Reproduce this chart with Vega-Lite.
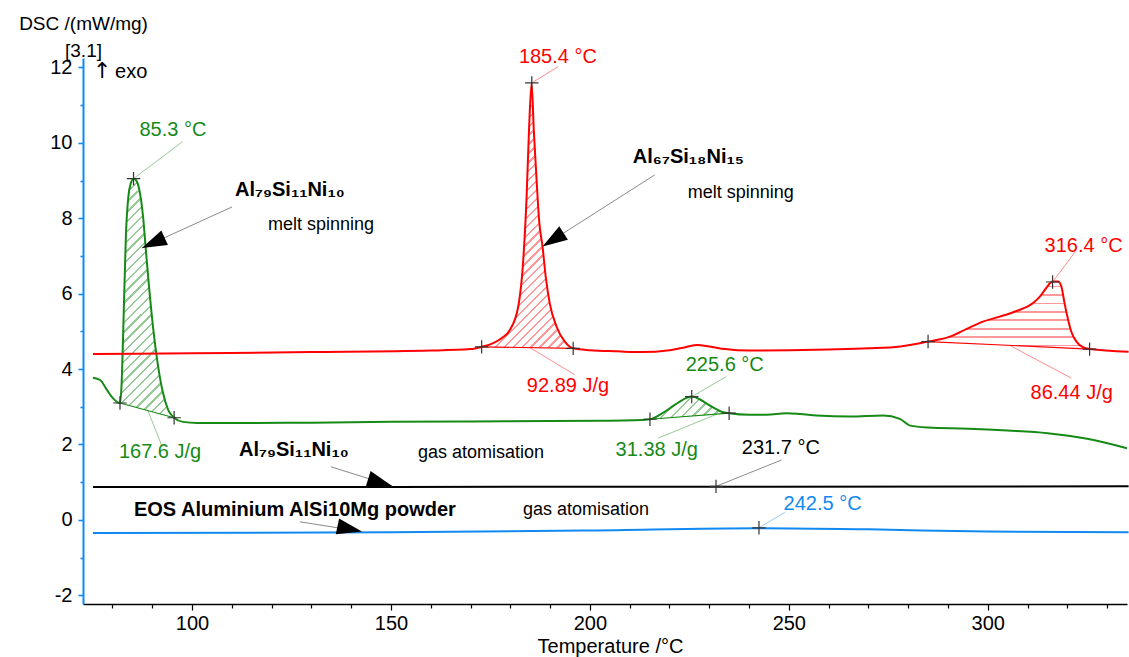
{
  "$schema": "https://vega.github.io/schema/vega-lite/v6.json",
  "width": 1044,
  "height": 546,
  "autosize": {"type": "none"},
  "padding": {"left": 83, "top": 58, "right": 2, "bottom": 53},
  "background": "white",
  "config": {"view": {"stroke": null}, "font": "Liberation Sans"},
  "datasets": {
    "curves": [
      {"s": "G", "T": 75.1, "v": 3.77}, {"s": "G", "T": 76.9, "v": 3.71}, {"s": "G", "T": 78.6, "v": 3.45}, {"s": "G", "T": 80.1, "v": 3.23},
      {"s": "G", "T": 81.9, "v": 3.10}, {"s": "G", "T": 82.3, "v": 3.6}, {"s": "G", "T": 82.7, "v": 4.96}, {"s": "G", "T": 83.4, "v": 7.6},
      {"s": "G", "T": 84.0, "v": 8.57}, {"s": "G", "T": 84.6, "v": 8.92}, {"s": "G", "T": 85.3, "v": 9.05}, {"s": "G", "T": 86.0, "v": 9.0},
      {"s": "G", "T": 86.6, "v": 8.83}, {"s": "G", "T": 87.7, "v": 8.04}, {"s": "G", "T": 88.4, "v": 7.16}, {"s": "G", "T": 89.2, "v": 6.18},
      {"s": "G", "T": 90.2, "v": 5.12}, {"s": "G", "T": 91.5, "v": 4.06}, {"s": "G", "T": 92.7, "v": 3.37}, {"s": "G", "T": 94.0, "v": 2.92},
      {"s": "G", "T": 95.5, "v": 2.71}, {"s": "G", "T": 97.7, "v": 2.60}, {"s": "G", "T": 101.3, "v": 2.57}, {"s": "G", "T": 110, "v": 2.57},
      {"s": "G", "T": 130, "v": 2.58}, {"s": "G", "T": 150, "v": 2.60}, {"s": "G", "T": 170, "v": 2.61}, {"s": "G", "T": 190, "v": 2.62},
      {"s": "G", "T": 202.5, "v": 2.63}, {"s": "G", "T": 210.9, "v": 2.64}, {"s": "G", "T": 215.1, "v": 2.67}, {"s": "G", "T": 217.6, "v": 2.79},
      {"s": "G", "T": 220.1, "v": 2.96}, {"s": "G", "T": 222.6, "v": 3.14}, {"s": "G", "T": 225.6, "v": 3.27}, {"s": "G", "T": 227.6, "v": 3.20},
      {"s": "G", "T": 229.3, "v": 3.09}, {"s": "G", "T": 231.4, "v": 2.96}, {"s": "G", "T": 233.1, "v": 2.87}, {"s": "G", "T": 235.0, "v": 2.83},
      {"s": "G", "T": 240.2, "v": 2.79}, {"s": "G", "T": 244.4, "v": 2.79}, {"s": "G", "T": 249.4, "v": 2.83}, {"s": "G", "T": 252.8, "v": 2.81},
      {"s": "G", "T": 257.0, "v": 2.77}, {"s": "G", "T": 265.3, "v": 2.74}, {"s": "G", "T": 273.7, "v": 2.77}, {"s": "G", "T": 277.9, "v": 2.68},
      {"s": "G", "T": 280.5, "v": 2.50}, {"s": "G", "T": 285, "v": 2.45}, {"s": "G", "T": 295, "v": 2.42}, {"s": "G", "T": 305, "v": 2.37},
      {"s": "G", "T": 315, "v": 2.30}, {"s": "G", "T": 325, "v": 2.15}, {"s": "G", "T": 335, "v": 1.90},

      {"s": "R", "T": 75.1, "v": 4.40}, {"s": "R", "T": 100, "v": 4.42}, {"s": "R", "T": 130, "v": 4.45}, {"s": "R", "T": 160, "v": 4.49},
      {"s": "R", "T": 170, "v": 4.53}, {"s": "R", "T": 172.8, "v": 4.59}, {"s": "R", "T": 175.7, "v": 4.69}, {"s": "R", "T": 177.8, "v": 4.82},
      {"s": "R", "T": 179.9, "v": 5.04}, {"s": "R", "T": 182.0, "v": 5.66}, {"s": "R", "T": 183.2, "v": 6.81}, {"s": "R", "T": 184.1, "v": 8.58},
      {"s": "R", "T": 184.7, "v": 10.34}, {"s": "R", "T": 185.35, "v": 11.58}, {"s": "R", "T": 185.9, "v": 10.34}, {"s": "R", "T": 186.6, "v": 9.02},
      {"s": "R", "T": 187.3, "v": 7.87}, {"s": "R", "T": 188.1, "v": 7.25}, {"s": "R", "T": 188.9, "v": 6.45}, {"s": "R", "T": 189.9, "v": 5.75},
      {"s": "R", "T": 191.6, "v": 5.13}, {"s": "R", "T": 193.7, "v": 4.73}, {"s": "R", "T": 195.8, "v": 4.55}, {"s": "R", "T": 200, "v": 4.50},
      {"s": "R", "T": 207, "v": 4.47}, {"s": "R", "T": 213, "v": 4.45}, {"s": "R", "T": 220, "v": 4.50}, {"s": "R", "T": 224, "v": 4.58},
      {"s": "R", "T": 227, "v": 4.64}, {"s": "R", "T": 230, "v": 4.60}, {"s": "R", "T": 234, "v": 4.53}, {"s": "R", "T": 240, "v": 4.49},
      {"s": "R", "T": 250, "v": 4.50}, {"s": "R", "T": 260, "v": 4.52}, {"s": "R", "T": 270, "v": 4.55}, {"s": "R", "T": 278, "v": 4.60},
      {"s": "R", "T": 285.0, "v": 4.73}, {"s": "R", "T": 290.5, "v": 4.86}, {"s": "R", "T": 294.6, "v": 5.06}, {"s": "R", "T": 298.8, "v": 5.26},
      {"s": "R", "T": 303.0, "v": 5.39}, {"s": "R", "T": 307.2, "v": 5.54}, {"s": "R", "T": 311.4, "v": 5.75}, {"s": "R", "T": 313.1, "v": 5.92},
      {"s": "R", "T": 314.7, "v": 6.15}, {"s": "R", "T": 316.3, "v": 6.32}, {"s": "R", "T": 317.7, "v": 6.32}, {"s": "R", "T": 318.5, "v": 6.19},
      {"s": "R", "T": 319.3, "v": 5.75}, {"s": "R", "T": 320.2, "v": 5.31}, {"s": "R", "T": 321.0, "v": 4.99}, {"s": "R", "T": 322.3, "v": 4.73},
      {"s": "R", "T": 323.9, "v": 4.58}, {"s": "R", "T": 325.6, "v": 4.53}, {"s": "R", "T": 335.4, "v": 4.46},

      {"s": "K", "T": 75.1, "v": 0.87}, {"s": "K", "T": 150, "v": 0.875}, {"s": "K", "T": 231.7, "v": 0.88}, {"s": "K", "T": 335.4, "v": 0.89},

      {"s": "B", "T": 75.1, "v": -0.35}, {"s": "B", "T": 150, "v": -0.33}, {"s": "B", "T": 200, "v": -0.28}, {"s": "B", "T": 242.5, "v": -0.22},
      {"s": "B", "T": 270, "v": -0.25}, {"s": "B", "T": 300, "v": -0.31}, {"s": "B", "T": 335.4, "v": -0.33}
    ],
    "areas": [
      {"p": "g1", "s": "G", "T": 81.9, "v": 3.10, "base": 3.10}, {"p": "g1", "s": "G", "T": 82.3, "v": 3.6, "base": 3.089},
      {"p": "g1", "s": "G", "T": 82.7, "v": 4.96, "base": 3.077}, {"p": "g1", "s": "G", "T": 83.4, "v": 7.6, "base": 3.057},
      {"p": "g1", "s": "G", "T": 84.0, "v": 8.57, "base": 3.04}, {"p": "g1", "s": "G", "T": 84.6, "v": 8.92, "base": 3.023},
      {"p": "g1", "s": "G", "T": 85.3, "v": 9.05, "base": 3.002}, {"p": "g1", "s": "G", "T": 86.0, "v": 9.0, "base": 2.982},
      {"p": "g1", "s": "G", "T": 86.6, "v": 8.83, "base": 2.965}, {"p": "g1", "s": "G", "T": 87.7, "v": 8.04, "base": 2.934},
      {"p": "g1", "s": "G", "T": 88.4, "v": 7.16, "base": 2.914}, {"p": "g1", "s": "G", "T": 89.2, "v": 6.18, "base": 2.891},
      {"p": "g1", "s": "G", "T": 90.2, "v": 5.12, "base": 2.862}, {"p": "g1", "s": "G", "T": 91.5, "v": 4.06, "base": 2.825},
      {"p": "g1", "s": "G", "T": 92.7, "v": 3.37, "base": 2.79}, {"p": "g1", "s": "G", "T": 94.0, "v": 2.92, "base": 2.753},
      {"p": "g1", "s": "G", "T": 95.5, "v": 2.71, "base": 2.71},

      {"p": "g2", "s": "G", "T": 215.1, "v": 2.67, "base": 2.67}, {"p": "g2", "s": "G", "T": 217.6, "v": 2.79, "base": 2.69},
      {"p": "g2", "s": "G", "T": 220.1, "v": 2.96, "base": 2.71}, {"p": "g2", "s": "G", "T": 222.6, "v": 3.14, "base": 2.73},
      {"p": "g2", "s": "G", "T": 225.6, "v": 3.27, "base": 2.754}, {"p": "g2", "s": "G", "T": 227.6, "v": 3.20, "base": 2.77},
      {"p": "g2", "s": "G", "T": 229.3, "v": 3.09, "base": 2.784}, {"p": "g2", "s": "G", "T": 231.4, "v": 2.96, "base": 2.801},
      {"p": "g2", "s": "G", "T": 233.1, "v": 2.87, "base": 2.815}, {"p": "g2", "s": "G", "T": 235.0, "v": 2.83, "base": 2.83},

      {"p": "r1", "s": "R", "T": 172.8, "v": 4.59, "base": 4.59}, {"p": "r1", "s": "R", "T": 175.7, "v": 4.69, "base": 4.586},
      {"p": "r1", "s": "R", "T": 177.8, "v": 4.82, "base": 4.583}, {"p": "r1", "s": "R", "T": 179.9, "v": 5.04, "base": 4.581},
      {"p": "r1", "s": "R", "T": 182.0, "v": 5.66, "base": 4.578}, {"p": "r1", "s": "R", "T": 183.2, "v": 6.81, "base": 4.576},
      {"p": "r1", "s": "R", "T": 184.1, "v": 8.58, "base": 4.575}, {"p": "r1", "s": "R", "T": 184.7, "v": 10.34, "base": 4.574},
      {"p": "r1", "s": "R", "T": 185.35, "v": 11.58, "base": 4.574}, {"p": "r1", "s": "R", "T": 185.9, "v": 10.34, "base": 4.573},
      {"p": "r1", "s": "R", "T": 186.6, "v": 9.02, "base": 4.572}, {"p": "r1", "s": "R", "T": 187.3, "v": 7.87, "base": 4.571},
      {"p": "r1", "s": "R", "T": 188.1, "v": 7.25, "base": 4.57}, {"p": "r1", "s": "R", "T": 188.9, "v": 6.45, "base": 4.569},
      {"p": "r1", "s": "R", "T": 189.9, "v": 5.75, "base": 4.568}, {"p": "r1", "s": "R", "T": 191.6, "v": 5.13, "base": 4.566},
      {"p": "r1", "s": "R", "T": 193.7, "v": 4.73, "base": 4.56}, {"p": "r1", "s": "R", "T": 195.8, "v": 4.55, "base": 4.55},

      {"p": "r2", "s": "R", "T": 285.0, "v": 4.73, "base": 4.73}, {"p": "r2", "s": "R", "T": 290.5, "v": 4.86, "base": 4.703},
      {"p": "r2", "s": "R", "T": 294.6, "v": 5.06, "base": 4.683}, {"p": "r2", "s": "R", "T": 298.8, "v": 5.26, "base": 4.662},
      {"p": "r2", "s": "R", "T": 303.0, "v": 5.39, "base": 4.641}, {"p": "r2", "s": "R", "T": 307.2, "v": 5.54, "base": 4.621},
      {"p": "r2", "s": "R", "T": 311.4, "v": 5.75, "base": 4.6}, {"p": "r2", "s": "R", "T": 313.1, "v": 5.92, "base": 4.592},
      {"p": "r2", "s": "R", "T": 314.7, "v": 6.15, "base": 4.584}, {"p": "r2", "s": "R", "T": 316.3, "v": 6.32, "base": 4.576},
      {"p": "r2", "s": "R", "T": 317.7, "v": 6.32, "base": 4.569}, {"p": "r2", "s": "R", "T": 318.5, "v": 6.19, "base": 4.565},
      {"p": "r2", "s": "R", "T": 319.3, "v": 5.75, "base": 4.561}, {"p": "r2", "s": "R", "T": 320.2, "v": 5.31, "base": 4.557},
      {"p": "r2", "s": "R", "T": 321.0, "v": 4.99, "base": 4.553}, {"p": "r2", "s": "R", "T": 322.3, "v": 4.73, "base": 4.547},
      {"p": "r2", "s": "R", "T": 323.9, "v": 4.58, "base": 4.539}, {"p": "r2", "s": "R", "T": 325.6, "v": 4.53, "base": 4.53}
    ],
    "baselines": [
      {"s": "G", "T": 81.9, "v": 3.10, "T2": 95.5, "v2": 2.71},
      {"s": "G", "T": 215.1, "v": 2.67, "T2": 235.0, "v2": 2.83},
      {"s": "R", "T": 172.8, "v": 4.59, "T2": 195.8, "v2": 4.55},
      {"s": "R", "T": 285.0, "v": 4.73, "T2": 325.6, "v2": 4.53}
    ],
    "crosses": [
      {"T": 81.9, "v": 3.10}, {"T": 85.3, "v": 9.05}, {"T": 95.5, "v": 2.71},
      {"T": 215.1, "v": 2.67}, {"T": 225.6, "v": 3.27}, {"T": 235.0, "v": 2.83},
      {"T": 172.8, "v": 4.59}, {"T": 185.4, "v": 11.59}, {"T": 195.8, "v": 4.55},
      {"T": 285.0, "v": 4.73}, {"T": 316.3, "v": 6.31}, {"T": 325.6, "v": 4.53},
      {"T": 231.7, "v": 0.89}, {"T": 242.5, "v": -0.21}
    ],
    "leaders": [
      {"s": "G", "T": 85.3, "v": 9.05, "T2": 97.6, "v2": 10.03},
      {"s": "G", "T": 88.9, "v": 2.9, "T2": 92.5, "v2": 1.94},
      {"s": "R", "T": 185.4, "v": 11.59, "T2": 192.0, "v2": 12.02},
      {"s": "R", "T": 184.9, "v": 4.57, "T2": 196.2, "v2": 3.85},
      {"s": "R", "T": 316.3, "v": 6.31, "T2": 321.9, "v2": 7.1},
      {"s": "R", "T": 305.5, "v": 4.63, "T2": 321.0, "v2": 3.76},
      {"s": "G", "T": 225.6, "v": 3.27, "T2": 234.3, "v2": 3.8},
      {"s": "G", "T": 231.8, "v": 2.80, "T2": 217.2, "v2": 2.17},
      {"s": "K", "T": 231.7, "v": 0.89, "T2": 248.2, "v2": 1.59},
      {"s": "B", "T": 242.5, "v": -0.21, "T2": 249.0, "v2": 0.2}
    ],
    "arrows": [
      {"id": "a1", "T": 110.05, "v": 8.30, "T2": 87.4, "v2": 7.21},
      {"id": "a2", "T": 216.3, "v": 9.15, "T2": 188.1, "v2": 7.25},
      {"id": "a3", "T": 134.9, "v": 1.41, "T2": 150.3, "v2": 0.9},
      {"id": "a4", "T": 127.1, "v": -0.05, "T2": 142.7, "v2": -0.31}
    ],
    "values": [
      {"s": "G", "T": 95.2, "v": 10.34, "text": "85.3 °C"},
      {"s": "G", "T": 91.96, "v": 1.80, "text": "167.6 J/g"},
      {"s": "R", "T": 191.96, "v": 12.28, "text": "185.4 °C"},
      {"s": "R", "T": 194.5, "v": 3.55, "text": "92.89 J/g"},
      {"s": "R", "T": 324.1, "v": 7.27, "text": "316.4 °C"},
      {"s": "R", "T": 321.1, "v": 3.37, "text": "86.44 J/g"},
      {"s": "G", "T": 233.9, "v": 4.11, "text": "225.6 °C"},
      {"s": "G", "T": 216.8, "v": 1.86, "text": "31.38 J/g"},
      {"s": "K", "T": 248.0, "v": 1.91, "text": "231.7 °C"},
      {"s": "B", "T": 258.5, "v": 0.43, "text": "242.5 °C"}
    ],
    "names": [
      {"T": 110.8, "v": 8.75, "text": "Al₇₉Si₁₁Ni₁₀"},
      {"T": 210.8, "v": 9.63, "text": "Al₆₇Si₁₈Ni₁₅"},
      {"T": 111.8, "v": 1.86, "text": "Al₇₉Si₁₁Ni₁₀"},
      {"T": 85.4, "v": 0.27, "text": "EOS Aluminium AlSi10Mg powder"}
    ],
    "notes": [
      {"T": 119.1, "v": 7.82, "text": "melt spinning"},
      {"T": 224.6, "v": 8.67, "text": "melt spinning"},
      {"T": 156.8, "v": 1.78, "text": "gas atomisation"},
      {"T": 183.2, "v": 0.27, "text": "gas atomisation"}
    ],
    "exo": [{"T": 80.65, "v": 11.88, "text": "exo"}],
    "exoArrow": [{"T": 77.4, "v": 11.9, "text": "↑"}]
  },
  "encoding": {
    "x": {
      "field": "T", "type": "quantitative",
      "scale": {"domain": [72.6, 335], "nice": false, "zero": false},
      "axis": {
        "values": [80, 90, 100, 110, 120, 130, 140, 150, 160, 170, 180, 190, 200, 210, 220, 230, 240, 250, 260, 270, 280, 290, 300, 310, 320, 330],
        "labelExpr": "datum.value % 50 === 0 ? '' + datum.value : ''",
        "grid": false, "domainColor": "#000000", "domainWidth": 1.5,
        "tickColor": "#000000", "tickWidth": 1.2,
        "tickSize": {"condition": {"test": "datum.value % 50 === 0", "value": 6}, "value": 4},
        "labelFontSize": 20, "labelColor": "#000000", "labelPadding": 3, "labelOverlap": false, "labelFlush": false,
        "title": "Temperature /°C", "titleFontSize": 20, "titleFontWeight": "normal", "titleColor": "#000000",
        "titleX": 527, "titleY": 48, "titleBaseline": "alphabetic"
      }
    },
    "y": {
      "field": "v", "type": "quantitative",
      "scale": {"domain": [-2.23, 12.25], "nice": false, "zero": false},
      "axis": {
        "values": [-2, -1, 0, 1, 2, 3, 4, 5, 6, 7, 8, 9, 10, 11, 12],
        "labelExpr": "datum.value % 2 === 0 ? '' + datum.value : ''",
        "grid": false, "domainColor": "#1189f0", "domainWidth": 2,
        "tickColor": "#1189f0", "tickWidth": 1.6,
        "tickSize": {"condition": {"test": "datum.value % 2 === 0", "value": 5}, "value": 3},
        "labelFontSize": 20, "labelColor": "#000000", "labelPadding": 6, "labelOverlap": false, "labelFlush": false,
        "title": ["DSC /(mW/mg)", "[3.1]"], "titleAngle": 0, "titleX": 0, "titleY": -29,
        "titleAlign": "center", "titleBaseline": "alphabetic", "titleFontSize": 19, "titleFontWeight": "normal",
        "titleColor": "#000000", "titleLineHeight": 27
      }
    }
  },
  "layer": [
    {
      "data": {"name": "areas"},
      "transform": [{"filter": "datum.p === 'g1'"}],
      "mark": {"type": "area", "interpolate": "monotone",
        "fill": {"gradient": "linear", "x1": 0, "y1": 0, "x2": 0.2636, "y2": 1.1664, "stops": [
          {"offset": 0.0333, "color": "transparent"}, {"offset": 0.0333, "color": "rgba(22,138,22,0.45)"}, {"offset": 0.0413, "color": "rgba(22,138,22,0.45)"}, {"offset": 0.0413, "color": "transparent"},
          {"offset": 0.0667, "color": "transparent"}, {"offset": 0.0667, "color": "rgba(22,138,22,0.45)"}, {"offset": 0.0747, "color": "rgba(22,138,22,0.45)"}, {"offset": 0.0747, "color": "transparent"},
          {"offset": 0.1, "color": "transparent"}, {"offset": 0.1, "color": "rgba(22,138,22,0.45)"}, {"offset": 0.108, "color": "rgba(22,138,22,0.45)"}, {"offset": 0.108, "color": "transparent"},
          {"offset": 0.1333, "color": "transparent"}, {"offset": 0.1333, "color": "rgba(22,138,22,0.45)"}, {"offset": 0.1413, "color": "rgba(22,138,22,0.45)"}, {"offset": 0.1413, "color": "transparent"},
          {"offset": 0.1667, "color": "transparent"}, {"offset": 0.1667, "color": "rgba(22,138,22,0.45)"}, {"offset": 0.1747, "color": "rgba(22,138,22,0.45)"}, {"offset": 0.1747, "color": "transparent"},
          {"offset": 0.2, "color": "transparent"}, {"offset": 0.2, "color": "rgba(22,138,22,0.45)"}, {"offset": 0.208, "color": "rgba(22,138,22,0.45)"}, {"offset": 0.208, "color": "transparent"},
          {"offset": 0.2333, "color": "transparent"}, {"offset": 0.2333, "color": "rgba(22,138,22,0.45)"}, {"offset": 0.2413, "color": "rgba(22,138,22,0.45)"}, {"offset": 0.2413, "color": "transparent"},
          {"offset": 0.2667, "color": "transparent"}, {"offset": 0.2667, "color": "rgba(22,138,22,0.45)"}, {"offset": 0.2747, "color": "rgba(22,138,22,0.45)"}, {"offset": 0.2747, "color": "transparent"},
          {"offset": 0.3, "color": "transparent"}, {"offset": 0.3, "color": "rgba(22,138,22,0.45)"}, {"offset": 0.308, "color": "rgba(22,138,22,0.45)"}, {"offset": 0.308, "color": "transparent"},
          {"offset": 0.3333, "color": "transparent"}, {"offset": 0.3333, "color": "rgba(22,138,22,0.45)"}, {"offset": 0.3413, "color": "rgba(22,138,22,0.45)"}, {"offset": 0.3413, "color": "transparent"},
          {"offset": 0.3667, "color": "transparent"}, {"offset": 0.3667, "color": "rgba(22,138,22,0.45)"}, {"offset": 0.3747, "color": "rgba(22,138,22,0.45)"}, {"offset": 0.3747, "color": "transparent"},
          {"offset": 0.4, "color": "transparent"}, {"offset": 0.4, "color": "rgba(22,138,22,0.45)"}, {"offset": 0.408, "color": "rgba(22,138,22,0.45)"}, {"offset": 0.408, "color": "transparent"},
          {"offset": 0.4333, "color": "transparent"}, {"offset": 0.4333, "color": "rgba(22,138,22,0.45)"}, {"offset": 0.4413, "color": "rgba(22,138,22,0.45)"}, {"offset": 0.4413, "color": "transparent"},
          {"offset": 0.4667, "color": "transparent"}, {"offset": 0.4667, "color": "rgba(22,138,22,0.45)"}, {"offset": 0.4747, "color": "rgba(22,138,22,0.45)"}, {"offset": 0.4747, "color": "transparent"},
          {"offset": 0.5, "color": "transparent"}, {"offset": 0.5, "color": "rgba(22,138,22,0.45)"}, {"offset": 0.508, "color": "rgba(22,138,22,0.45)"}, {"offset": 0.508, "color": "transparent"},
          {"offset": 0.5333, "color": "transparent"}, {"offset": 0.5333, "color": "rgba(22,138,22,0.45)"}, {"offset": 0.5413, "color": "rgba(22,138,22,0.45)"}, {"offset": 0.5413, "color": "transparent"},
          {"offset": 0.5667, "color": "transparent"}, {"offset": 0.5667, "color": "rgba(22,138,22,0.45)"}, {"offset": 0.5747, "color": "rgba(22,138,22,0.45)"}, {"offset": 0.5747, "color": "transparent"},
          {"offset": 0.6, "color": "transparent"}, {"offset": 0.6, "color": "rgba(22,138,22,0.45)"}, {"offset": 0.608, "color": "rgba(22,138,22,0.45)"}, {"offset": 0.608, "color": "transparent"},
          {"offset": 0.6333, "color": "transparent"}, {"offset": 0.6333, "color": "rgba(22,138,22,0.45)"}, {"offset": 0.6413, "color": "rgba(22,138,22,0.45)"}, {"offset": 0.6413, "color": "transparent"},
          {"offset": 0.6667, "color": "transparent"}, {"offset": 0.6667, "color": "rgba(22,138,22,0.45)"}, {"offset": 0.6747, "color": "rgba(22,138,22,0.45)"}, {"offset": 0.6747, "color": "transparent"},
          {"offset": 0.7, "color": "transparent"}, {"offset": 0.7, "color": "rgba(22,138,22,0.45)"}, {"offset": 0.708, "color": "rgba(22,138,22,0.45)"}, {"offset": 0.708, "color": "transparent"},
          {"offset": 0.7333, "color": "transparent"}, {"offset": 0.7333, "color": "rgba(22,138,22,0.45)"}, {"offset": 0.7413, "color": "rgba(22,138,22,0.45)"}, {"offset": 0.7413, "color": "transparent"},
          {"offset": 0.7667, "color": "transparent"}, {"offset": 0.7667, "color": "rgba(22,138,22,0.45)"}, {"offset": 0.7747, "color": "rgba(22,138,22,0.45)"}, {"offset": 0.7747, "color": "transparent"},
          {"offset": 0.8, "color": "transparent"}, {"offset": 0.8, "color": "rgba(22,138,22,0.45)"}, {"offset": 0.808, "color": "rgba(22,138,22,0.45)"}, {"offset": 0.808, "color": "transparent"},
          {"offset": 0.8333, "color": "transparent"}, {"offset": 0.8333, "color": "rgba(22,138,22,0.45)"}, {"offset": 0.8413, "color": "rgba(22,138,22,0.45)"}, {"offset": 0.8413, "color": "transparent"},
          {"offset": 0.8667, "color": "transparent"}, {"offset": 0.8667, "color": "rgba(22,138,22,0.45)"}, {"offset": 0.8747, "color": "rgba(22,138,22,0.45)"}, {"offset": 0.8747, "color": "transparent"},
          {"offset": 0.9, "color": "transparent"}, {"offset": 0.9, "color": "rgba(22,138,22,0.45)"}, {"offset": 0.908, "color": "rgba(22,138,22,0.45)"}, {"offset": 0.908, "color": "transparent"},
          {"offset": 0.9333, "color": "transparent"}, {"offset": 0.9333, "color": "rgba(22,138,22,0.45)"}, {"offset": 0.9413, "color": "rgba(22,138,22,0.45)"}, {"offset": 0.9413, "color": "transparent"},
          {"offset": 1, "color": "transparent"}
        ]}},
      "encoding": {"y2": {"field": "base"}}
    },
    {
      "data": {"name": "areas"},
      "transform": [{"filter": "datum.p === 'r1'"}],
      "mark": {"type": "area", "interpolate": "monotone",
        "fill": {"gradient": "linear", "x1": 0, "y1": 0, "x2": 0.415, "y2": 1.202, "stops": [
          {"offset": 0.025, "color": "transparent"}, {"offset": 0.025, "color": "rgba(255,0,0,0.4)"}, {"offset": 0.0315, "color": "rgba(255,0,0,0.4)"}, {"offset": 0.0315, "color": "transparent"},
          {"offset": 0.05, "color": "transparent"}, {"offset": 0.05, "color": "rgba(255,0,0,0.4)"}, {"offset": 0.0565, "color": "rgba(255,0,0,0.4)"}, {"offset": 0.0565, "color": "transparent"},
          {"offset": 0.075, "color": "transparent"}, {"offset": 0.075, "color": "rgba(255,0,0,0.4)"}, {"offset": 0.0815, "color": "rgba(255,0,0,0.4)"}, {"offset": 0.0815, "color": "transparent"},
          {"offset": 0.1, "color": "transparent"}, {"offset": 0.1, "color": "rgba(255,0,0,0.4)"}, {"offset": 0.1065, "color": "rgba(255,0,0,0.4)"}, {"offset": 0.1065, "color": "transparent"},
          {"offset": 0.125, "color": "transparent"}, {"offset": 0.125, "color": "rgba(255,0,0,0.4)"}, {"offset": 0.1315, "color": "rgba(255,0,0,0.4)"}, {"offset": 0.1315, "color": "transparent"},
          {"offset": 0.15, "color": "transparent"}, {"offset": 0.15, "color": "rgba(255,0,0,0.4)"}, {"offset": 0.1565, "color": "rgba(255,0,0,0.4)"}, {"offset": 0.1565, "color": "transparent"},
          {"offset": 0.175, "color": "transparent"}, {"offset": 0.175, "color": "rgba(255,0,0,0.4)"}, {"offset": 0.1815, "color": "rgba(255,0,0,0.4)"}, {"offset": 0.1815, "color": "transparent"},
          {"offset": 0.2, "color": "transparent"}, {"offset": 0.2, "color": "rgba(255,0,0,0.4)"}, {"offset": 0.2065, "color": "rgba(255,0,0,0.4)"}, {"offset": 0.2065, "color": "transparent"},
          {"offset": 0.225, "color": "transparent"}, {"offset": 0.225, "color": "rgba(255,0,0,0.4)"}, {"offset": 0.2315, "color": "rgba(255,0,0,0.4)"}, {"offset": 0.2315, "color": "transparent"},
          {"offset": 0.25, "color": "transparent"}, {"offset": 0.25, "color": "rgba(255,0,0,0.4)"}, {"offset": 0.2565, "color": "rgba(255,0,0,0.4)"}, {"offset": 0.2565, "color": "transparent"},
          {"offset": 0.275, "color": "transparent"}, {"offset": 0.275, "color": "rgba(255,0,0,0.4)"}, {"offset": 0.2815, "color": "rgba(255,0,0,0.4)"}, {"offset": 0.2815, "color": "transparent"},
          {"offset": 0.3, "color": "transparent"}, {"offset": 0.3, "color": "rgba(255,0,0,0.4)"}, {"offset": 0.3065, "color": "rgba(255,0,0,0.4)"}, {"offset": 0.3065, "color": "transparent"},
          {"offset": 0.325, "color": "transparent"}, {"offset": 0.325, "color": "rgba(255,0,0,0.4)"}, {"offset": 0.3315, "color": "rgba(255,0,0,0.4)"}, {"offset": 0.3315, "color": "transparent"},
          {"offset": 0.35, "color": "transparent"}, {"offset": 0.35, "color": "rgba(255,0,0,0.4)"}, {"offset": 0.3565, "color": "rgba(255,0,0,0.4)"}, {"offset": 0.3565, "color": "transparent"},
          {"offset": 0.375, "color": "transparent"}, {"offset": 0.375, "color": "rgba(255,0,0,0.4)"}, {"offset": 0.3815, "color": "rgba(255,0,0,0.4)"}, {"offset": 0.3815, "color": "transparent"},
          {"offset": 0.4, "color": "transparent"}, {"offset": 0.4, "color": "rgba(255,0,0,0.4)"}, {"offset": 0.4065, "color": "rgba(255,0,0,0.4)"}, {"offset": 0.4065, "color": "transparent"},
          {"offset": 0.425, "color": "transparent"}, {"offset": 0.425, "color": "rgba(255,0,0,0.4)"}, {"offset": 0.4315, "color": "rgba(255,0,0,0.4)"}, {"offset": 0.4315, "color": "transparent"},
          {"offset": 0.45, "color": "transparent"}, {"offset": 0.45, "color": "rgba(255,0,0,0.4)"}, {"offset": 0.4565, "color": "rgba(255,0,0,0.4)"}, {"offset": 0.4565, "color": "transparent"},
          {"offset": 0.475, "color": "transparent"}, {"offset": 0.475, "color": "rgba(255,0,0,0.4)"}, {"offset": 0.4815, "color": "rgba(255,0,0,0.4)"}, {"offset": 0.4815, "color": "transparent"},
          {"offset": 0.5, "color": "transparent"}, {"offset": 0.5, "color": "rgba(255,0,0,0.4)"}, {"offset": 0.5065, "color": "rgba(255,0,0,0.4)"}, {"offset": 0.5065, "color": "transparent"},
          {"offset": 0.525, "color": "transparent"}, {"offset": 0.525, "color": "rgba(255,0,0,0.4)"}, {"offset": 0.5315, "color": "rgba(255,0,0,0.4)"}, {"offset": 0.5315, "color": "transparent"},
          {"offset": 0.55, "color": "transparent"}, {"offset": 0.55, "color": "rgba(255,0,0,0.4)"}, {"offset": 0.5565, "color": "rgba(255,0,0,0.4)"}, {"offset": 0.5565, "color": "transparent"},
          {"offset": 0.575, "color": "transparent"}, {"offset": 0.575, "color": "rgba(255,0,0,0.4)"}, {"offset": 0.5815, "color": "rgba(255,0,0,0.4)"}, {"offset": 0.5815, "color": "transparent"},
          {"offset": 0.6, "color": "transparent"}, {"offset": 0.6, "color": "rgba(255,0,0,0.4)"}, {"offset": 0.6065, "color": "rgba(255,0,0,0.4)"}, {"offset": 0.6065, "color": "transparent"},
          {"offset": 0.625, "color": "transparent"}, {"offset": 0.625, "color": "rgba(255,0,0,0.4)"}, {"offset": 0.6315, "color": "rgba(255,0,0,0.4)"}, {"offset": 0.6315, "color": "transparent"},
          {"offset": 0.65, "color": "transparent"}, {"offset": 0.65, "color": "rgba(255,0,0,0.4)"}, {"offset": 0.6565, "color": "rgba(255,0,0,0.4)"}, {"offset": 0.6565, "color": "transparent"},
          {"offset": 0.675, "color": "transparent"}, {"offset": 0.675, "color": "rgba(255,0,0,0.4)"}, {"offset": 0.6815, "color": "rgba(255,0,0,0.4)"}, {"offset": 0.6815, "color": "transparent"},
          {"offset": 0.7, "color": "transparent"}, {"offset": 0.7, "color": "rgba(255,0,0,0.4)"}, {"offset": 0.7065, "color": "rgba(255,0,0,0.4)"}, {"offset": 0.7065, "color": "transparent"},
          {"offset": 0.725, "color": "transparent"}, {"offset": 0.725, "color": "rgba(255,0,0,0.4)"}, {"offset": 0.7315, "color": "rgba(255,0,0,0.4)"}, {"offset": 0.7315, "color": "transparent"},
          {"offset": 0.75, "color": "transparent"}, {"offset": 0.75, "color": "rgba(255,0,0,0.4)"}, {"offset": 0.7565, "color": "rgba(255,0,0,0.4)"}, {"offset": 0.7565, "color": "transparent"},
          {"offset": 0.775, "color": "transparent"}, {"offset": 0.775, "color": "rgba(255,0,0,0.4)"}, {"offset": 0.7815, "color": "rgba(255,0,0,0.4)"}, {"offset": 0.7815, "color": "transparent"},
          {"offset": 0.8, "color": "transparent"}, {"offset": 0.8, "color": "rgba(255,0,0,0.4)"}, {"offset": 0.8065, "color": "rgba(255,0,0,0.4)"}, {"offset": 0.8065, "color": "transparent"},
          {"offset": 0.825, "color": "transparent"}, {"offset": 0.825, "color": "rgba(255,0,0,0.4)"}, {"offset": 0.8315, "color": "rgba(255,0,0,0.4)"}, {"offset": 0.8315, "color": "transparent"},
          {"offset": 0.85, "color": "transparent"}, {"offset": 0.85, "color": "rgba(255,0,0,0.4)"}, {"offset": 0.8565, "color": "rgba(255,0,0,0.4)"}, {"offset": 0.8565, "color": "transparent"},
          {"offset": 0.875, "color": "transparent"}, {"offset": 0.875, "color": "rgba(255,0,0,0.4)"}, {"offset": 0.8815, "color": "rgba(255,0,0,0.4)"}, {"offset": 0.8815, "color": "transparent"},
          {"offset": 0.9, "color": "transparent"}, {"offset": 0.9, "color": "rgba(255,0,0,0.4)"}, {"offset": 0.9065, "color": "rgba(255,0,0,0.4)"}, {"offset": 0.9065, "color": "transparent"},
          {"offset": 0.925, "color": "transparent"}, {"offset": 0.925, "color": "rgba(255,0,0,0.4)"}, {"offset": 0.9315, "color": "rgba(255,0,0,0.4)"}, {"offset": 0.9315, "color": "transparent"},
          {"offset": 0.95, "color": "transparent"}, {"offset": 0.95, "color": "rgba(255,0,0,0.4)"}, {"offset": 0.9565, "color": "rgba(255,0,0,0.4)"}, {"offset": 0.9565, "color": "transparent"},
          {"offset": 1, "color": "transparent"}
        ]}},
      "encoding": {"y2": {"field": "base"}}
    },
    {
      "data": {"name": "areas"},
      "transform": [{"filter": "datum.p === 'g2'"}],
      "mark": {"type": "area", "interpolate": "monotone",
        "fill": {"gradient": "linear", "x1": 0, "y1": 0, "x2": 1.188, "y2": 0.339, "stops": [
          {"offset": 0.1, "color": "transparent"}, {"offset": 0.1, "color": "rgba(22,138,22,0.45)"}, {"offset": 0.125, "color": "rgba(22,138,22,0.45)"}, {"offset": 0.125, "color": "transparent"},
          {"offset": 0.2, "color": "transparent"}, {"offset": 0.2, "color": "rgba(22,138,22,0.45)"}, {"offset": 0.225, "color": "rgba(22,138,22,0.45)"}, {"offset": 0.225, "color": "transparent"},
          {"offset": 0.3, "color": "transparent"}, {"offset": 0.3, "color": "rgba(22,138,22,0.45)"}, {"offset": 0.325, "color": "rgba(22,138,22,0.45)"}, {"offset": 0.325, "color": "transparent"},
          {"offset": 0.4, "color": "transparent"}, {"offset": 0.4, "color": "rgba(22,138,22,0.45)"}, {"offset": 0.425, "color": "rgba(22,138,22,0.45)"}, {"offset": 0.425, "color": "transparent"},
          {"offset": 0.5, "color": "transparent"}, {"offset": 0.5, "color": "rgba(22,138,22,0.45)"}, {"offset": 0.525, "color": "rgba(22,138,22,0.45)"}, {"offset": 0.525, "color": "transparent"},
          {"offset": 0.6, "color": "transparent"}, {"offset": 0.6, "color": "rgba(22,138,22,0.45)"}, {"offset": 0.625, "color": "rgba(22,138,22,0.45)"}, {"offset": 0.625, "color": "transparent"},
          {"offset": 0.7, "color": "transparent"}, {"offset": 0.7, "color": "rgba(22,138,22,0.45)"}, {"offset": 0.725, "color": "rgba(22,138,22,0.45)"}, {"offset": 0.725, "color": "transparent"},
          {"offset": 0.8, "color": "transparent"}, {"offset": 0.8, "color": "rgba(22,138,22,0.45)"}, {"offset": 0.825, "color": "rgba(22,138,22,0.45)"}, {"offset": 0.825, "color": "transparent"},
          {"offset": 0.9, "color": "transparent"}, {"offset": 0.9, "color": "rgba(22,138,22,0.45)"}, {"offset": 0.925, "color": "rgba(22,138,22,0.45)"}, {"offset": 0.925, "color": "transparent"},
          {"offset": 1, "color": "transparent"}
        ]}},
      "encoding": {"y2": {"field": "base"}}
    },
    {
      "data": {"name": "areas"},
      "transform": [{"filter": "datum.p === 'r2'"}],
      "mark": {"type": "area", "interpolate": "monotone",
        "fill": {"gradient": "linear", "x1": 0, "y1": 0, "x2": 0, "y2": 1, "stops": [
          {"offset": 0.06, "color": "transparent"}, {"offset": 0.06, "color": "rgba(255,0,0,0.4)"}, {"offset": 0.085, "color": "rgba(255,0,0,0.4)"}, {"offset": 0.085, "color": "transparent"},
          {"offset": 0.185, "color": "transparent"}, {"offset": 0.185, "color": "rgba(255,0,0,0.4)"}, {"offset": 0.21, "color": "rgba(255,0,0,0.4)"}, {"offset": 0.21, "color": "transparent"},
          {"offset": 0.31, "color": "transparent"}, {"offset": 0.31, "color": "rgba(255,0,0,0.4)"}, {"offset": 0.335, "color": "rgba(255,0,0,0.4)"}, {"offset": 0.335, "color": "transparent"},
          {"offset": 0.435, "color": "transparent"}, {"offset": 0.435, "color": "rgba(255,0,0,0.4)"}, {"offset": 0.46, "color": "rgba(255,0,0,0.4)"}, {"offset": 0.46, "color": "transparent"},
          {"offset": 0.56, "color": "transparent"}, {"offset": 0.56, "color": "rgba(255,0,0,0.4)"}, {"offset": 0.585, "color": "rgba(255,0,0,0.4)"}, {"offset": 0.585, "color": "transparent"},
          {"offset": 0.685, "color": "transparent"}, {"offset": 0.685, "color": "rgba(255,0,0,0.4)"}, {"offset": 0.71, "color": "rgba(255,0,0,0.4)"}, {"offset": 0.71, "color": "transparent"},
          {"offset": 0.81, "color": "transparent"}, {"offset": 0.81, "color": "rgba(255,0,0,0.4)"}, {"offset": 0.835, "color": "rgba(255,0,0,0.4)"}, {"offset": 0.835, "color": "transparent"},
          {"offset": 0.935, "color": "transparent"}, {"offset": 0.935, "color": "rgba(255,0,0,0.4)"}, {"offset": 0.96, "color": "rgba(255,0,0,0.4)"}, {"offset": 0.96, "color": "transparent"},
          {"offset": 1, "color": "transparent"}
        ]}},
      "encoding": {"y2": {"field": "base"}}
    },
    {
      "data": {"name": "baselines"},
      "mark": {"type": "rule", "strokeWidth": 1.2},
      "encoding": {
        "x2": {"field": "T2"}, "y2": {"field": "v2"},
        "color": {"field": "s", "type": "nominal", "scale": {"domain": ["G", "R", "K", "B"], "range": ["#168a16", "#ff0000", "#000000", "#1189f0"]}, "legend": null}
      }
    },
    {
      "data": {"name": "leaders"},
      "mark": {"type": "rule", "strokeWidth": 1, "opacity": 0.45},
      "encoding": {
        "x2": {"field": "T2"}, "y2": {"field": "v2"},
        "color": {"field": "s", "type": "nominal", "legend": null}
      }
    },
    {
      "data": {"name": "curves"},
      "mark": {"type": "line", "interpolate": "monotone", "strokeWidth": 2},
      "encoding": {
        "color": {"field": "s", "type": "nominal", "legend": null}
      }
    },
    {
      "data": {"name": "arrows"},
      "mark": {"type": "rule", "strokeWidth": 1, "color": "#8a8a8a"},
      "encoding": {"x2": {"field": "T2"}, "y2": {"field": "v2"}}
    },
    {
      "data": {"name": "arrows"},
      "transform": [{"filter": "datum.id === 'a1'"}],
      "mark": {"type": "point", "shape": "M0,0L-1,-0.32L-1,0.32Z", "filled": true, "color": "#000000", "opacity": 1, "size": 2500, "angle": 155.5},
      "encoding": {"x": {"field": "T2", "type": "quantitative"}, "y": {"field": "v2", "type": "quantitative"}}
    },
    {
      "data": {"name": "arrows"},
      "transform": [{"filter": "datum.id === 'a2'"}],
      "mark": {"type": "point", "shape": "M0,0L-1,-0.32L-1,0.32Z", "filled": true, "color": "#000000", "opacity": 1, "size": 2500, "angle": 147.3},
      "encoding": {"x": {"field": "T2", "type": "quantitative"}, "y": {"field": "v2", "type": "quantitative"}}
    },
    {
      "data": {"name": "arrows"},
      "transform": [{"filter": "datum.id === 'a3'"}],
      "mark": {"type": "point", "shape": "M0,0L-1,-0.32L-1,0.32Z", "filled": true, "color": "#000000", "opacity": 1, "size": 2500, "angle": 17},
      "encoding": {"x": {"field": "T2", "type": "quantitative"}, "y": {"field": "v2", "type": "quantitative"}}
    },
    {
      "data": {"name": "arrows"},
      "transform": [{"filter": "datum.id === 'a4'"}],
      "mark": {"type": "point", "shape": "M0,0L-1,-0.32L-1,0.32Z", "filled": true, "color": "#000000", "opacity": 1, "size": 2500, "angle": 12},
      "encoding": {"x": {"field": "T2", "type": "quantitative"}, "y": {"field": "v2", "type": "quantitative"}}
    },
    {
      "data": {"name": "crosses"},
      "mark": {"type": "point", "shape": "M-1,0L1,0M0,-1L0,1", "filled": false, "stroke": "#333333", "strokeWidth": 1.2, "opacity": 1, "size": 180}
    },
    {
      "data": {"name": "values"},
      "mark": {"type": "text", "fontSize": 20, "align": "center", "baseline": "middle"},
      "encoding": {
        "text": {"field": "text"},
        "color": {"field": "s", "type": "nominal", "legend": null}
      }
    },
    {
      "data": {"name": "names"},
      "mark": {"type": "text", "fontSize": 20, "fontWeight": "bold", "align": "left", "baseline": "middle", "color": "#000000"},
      "encoding": {"text": {"field": "text"}}
    },
    {
      "data": {"name": "notes"},
      "mark": {"type": "text", "fontSize": 18, "align": "left", "baseline": "middle", "color": "#000000"},
      "encoding": {"text": {"field": "text"}}
    },
    {
      "data": {"name": "exo"},
      "mark": {"type": "text", "fontSize": 20, "align": "left", "baseline": "middle", "color": "#000000"},
      "encoding": {"text": {"field": "text"}}
    },
    {
      "data": {"name": "exoArrow"},
      "mark": {"type": "text", "fontSize": 22, "font": "DejaVu Sans", "align": "center", "baseline": "middle", "color": "#000000"},
      "encoding": {"text": {"field": "text"}}
    }
  ]
}
